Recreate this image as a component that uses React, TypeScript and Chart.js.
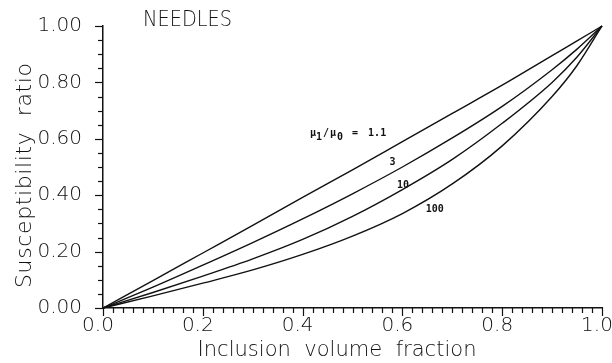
import React, { useEffect, useRef } from "react";
import { Chart, registerables } from "chart.js";

Chart.register(...registerables);

// Inclusion volume fraction (x) at which each curve is sampled
const fractions = [0, 0.1, 0.2, 0.3, 0.4, 0.5, 0.6, 0.7, 0.8, 0.9, 0.95, 1.0];

// Susceptibility ratio for each permeability contrast μ1/μ0
const ratio1p1 = [0, 0.097, 0.195, 0.293, 0.392, 0.49, 0.59, 0.69, 0.79, 0.895, 0.947, 1.0];
const ratio3 = [0, 0.074, 0.152, 0.232, 0.316, 0.405, 0.5, 0.603, 0.715, 0.845, 0.918, 1.0];
const ratio10 = [0, 0.055, 0.113, 0.174, 0.243, 0.325, 0.42, 0.527, 0.655, 0.8, 0.89, 1.0];
const ratio100 = [0, 0.043, 0.088, 0.135, 0.19, 0.255, 0.335, 0.44, 0.575, 0.75, 0.86, 1.0];

const xTickLabels = ["0.0", "0.2", "0.4", "0.6", "0.8", "1.0"];
const yTickLabels = ["0.00", "0.20", "0.40", "0.60", "0.80", "1.00"];

const INK = "#111111";
const FONT = '"DejaVu Sans", sans-serif';
const MONO = '"DejaVu Sans Mono", monospace';

const toPoints = (ys: number[]) => fractions.map((x, i) => ({ x, y: ys[i] }));

// Draws text so that it spans a given width: letter spacing to widen, horizontal scale to narrow.
function fitText(
  ctx: CanvasRenderingContext2D,
  text: string,
  x: number,
  y: number,
  width: number,
  align: "left" | "center"
) {
  ctx.save();
  (ctx as any).letterSpacing = "0px";
  const w0 = ctx.measureText(text).width;
  ctx.textAlign = "left";
  const left = align === "center" ? x - width / 2 : x;
  if (w0 > width) {
    ctx.translate(left, y);
    ctx.scale(width / w0, 1);
    ctx.fillText(text, 0, 0);
  } else {
    const ls = (width - w0) / Math.max(1, text.length - 1);
    (ctx as any).letterSpacing = `${ls}px`;
    ctx.fillText(text, left, y);
  }
  ctx.restore();
}

const decorations = {
  id: "decorations",
  afterDraw(chart: any) {
    const { ctx, chartArea, scales } = chart;
    const xs = scales.x;
    const ys = scales.y;
    ctx.save();

    // Tick marks: minor every 0.05 on y, every 0.02 on x, longer at labelled values
    ctx.strokeStyle = INK;
    ctx.lineWidth = 1.2;
    for (let i = 0; i <= 20; i++) {
      const py = Math.round(ys.getPixelForValue(i * 0.05)) + 0.5;
      const len = i % 4 === 0 ? 8 : 5;
      ctx.beginPath();
      ctx.moveTo(chartArea.left, py);
      ctx.lineTo(chartArea.left - len, py);
      ctx.stroke();
    }
    for (let i = 0; i <= 50; i++) {
      const px = Math.round(xs.getPixelForValue(i * 0.02)) + 0.5;
      const len = i % 10 === 0 ? 8 : 5;
      ctx.beginPath();
      ctx.moveTo(px, chartArea.bottom);
      ctx.lineTo(px, chartArea.bottom + len);
      ctx.stroke();
    }

    // Titles
    ctx.fillStyle = INK;
    ctx.textBaseline = "alphabetic";
    ctx.font = `300 22px ${FONT}`;
    fitText(ctx, "NEEDLES", 143, 26, 89, "left");

    ctx.font = `300 22px ${FONT}`;
    fitText(ctx, "Inclusion  volume  fraction", 337, 356, 279, "center");

    ctx.save();
    ctx.translate(31, 175.5);
    ctx.rotate(-Math.PI / 2);
    ctx.font = `300 22px ${FONT}`;
    fitText(ctx, "Susceptibility  ratio", 0, 0, 225, "center");
    ctx.restore();

    // Curve labels
    ctx.font = `bold 10px ${MONO}`;
    ctx.textAlign = "left";
    const bx = xs.getPixelForValue(0.415);
    const by = ys.getPixelForValue(0.611);
    ctx.fillText("μ", bx, by);
    ctx.fillText("1", bx + 6, by + 4);
    ctx.fillText("/", bx + 13, by);
    ctx.fillText("μ", bx + 20, by);
    ctx.fillText("0", bx + 27, by + 4);
    ctx.fillText("=", bx + 42, by);
    ctx.fillText("1.1", bx + 58, by);

    ctx.textAlign = "center";
    ctx.textBaseline = "middle";
    const marks: [string, number, number][] = [
      ["3", 0.58, 0.518],
      ["10", 0.601, 0.436],
      ["100", 0.665, 0.35],
    ];
    for (const [t, vx, vy] of marks) {
      ctx.fillText(t, xs.getPixelForValue(vx), ys.getPixelForValue(vy));
    }
    ctx.restore();
  },
};

export default function App() {
  const canvasRef = useRef<HTMLCanvasElement | null>(null);

  useEffect(() => {
    const canvas = canvasRef.current;
    if (!canvas) return;
    const series = [ratio1p1, ratio3, ratio10, ratio100];
    const chart = new Chart(canvas, {
      type: "line",
      data: {
        datasets: series.map((ys, i) => ({
          label: ["1.1", "3", "10", "100"][i],
          data: toPoints(ys),
          borderColor: INK,
          borderWidth: 1.4,
          pointRadius: 0,
          fill: false,
          cubicInterpolationMode: "monotone" as const,
          clip: false as any,
        })),
      },
      options: {
        responsive: false,
        animation: false,
        events: [],
        layout: { padding: { top: 26, right: 10, bottom: 0, left: 0 } },
        plugins: {
          legend: { display: false },
          tooltip: { enabled: false },
          title: { display: false },
        },
        scales: {
          x: {
            type: "linear",
            min: 0,
            max: 1,
            grid: { display: false, drawTicks: false },
            border: { display: true, color: INK, width: 1.5 },
            ticks: {
              stepSize: 0.2,
              padding: 6,
              labelOffset: -5,
              maxRotation: 0,
              color: INK,
              font: { family: FONT, size: 20, weight: "300" as any },
              callback: (_v: any, i: number) => xTickLabels[i],
            },
            afterFit: (scale: any) => {
              scale.height = 55;
              scale.paddingLeft = 0;
              scale.paddingRight = 0;
            },
          },
          y: {
            type: "linear",
            min: 0,
            max: 1,
            grid: { display: false, drawTicks: false },
            border: { display: true, color: INK, width: 1.5 },
            ticks: {
              stepSize: 0.2,
              padding: 21,
              color: INK,
              font: { family: FONT, size: 20, weight: "300" as any },
              callback: (_v: any, i: number) => yTickLabels[i],
            },
            afterFit: (scale: any) => {
              scale.width = 103;
              scale.paddingTop = 0;
              scale.paddingBottom = 0;
            },
          },
        },
      },
      plugins: [decorations],
    });
    return () => chart.destroy();
  }, []);

  return (
    <div style={{ position: "absolute", left: 0, top: 0, width: 612, height: 363, background: "#fff" }}>
      <canvas ref={canvasRef} width={612} height={363} style={{ display: "block" }} />
    </div>
  );
}
